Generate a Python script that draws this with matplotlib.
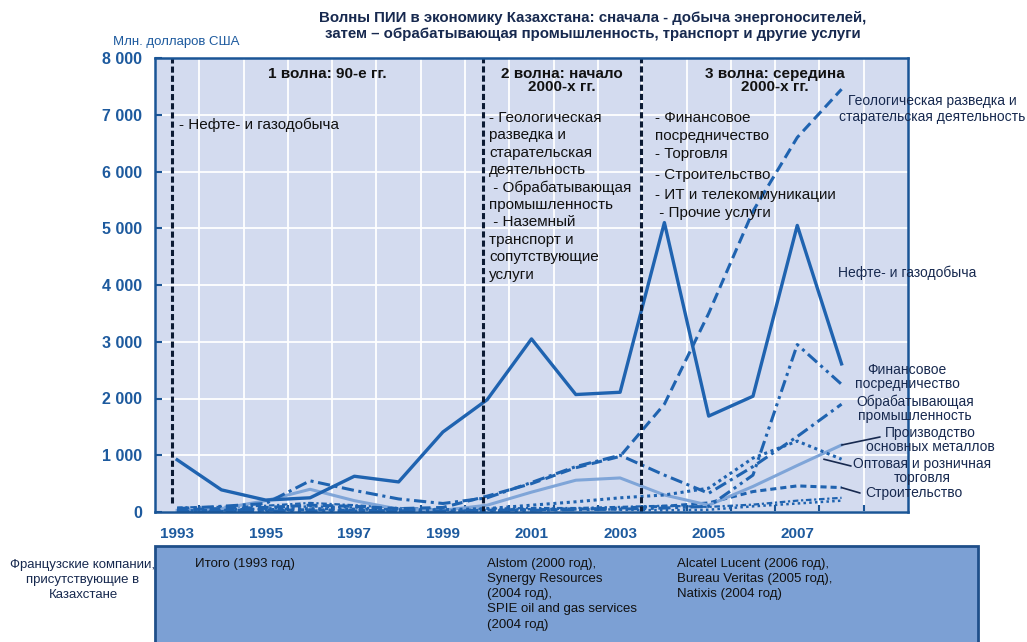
import matplotlib
matplotlib.use("Agg")
import matplotlib.pyplot as plt
from matplotlib.patches import Rectangle

plt.rcParams["font.family"] = ["Liberation Sans", "DejaVu Sans"]

# Data (млн. долларов США)
years = list(range(1993, 2009))
oil_gas = [920, 390, 210, 250, 630, 530, 1410, 1980, 3050, 2070, 2110, 5100, 1690, 2040, 5050, 2610]
geology = [40, 60, 80, 120, 100, 60, 80, 280, 500, 780, 980, 1900, 3500, 5300, 6600, 7450]
finance = [10, 10, 20, 20, 20, 20, 20, 20, 30, 40, 50, 70, 100, 650, 2950, 2250]
manufacturing = [60, 100, 150, 550, 380, 230, 150, 250, 520, 800, 1000, 650, 330, 800, 1330, 1900]
metals = [30, 60, 200, 400, 200, 50, 30, 120, 350, 560, 600, 300, 120, 450, 820, 1180]
trade = [20, 30, 40, 60, 50, 40, 40, 60, 120, 180, 250, 300, 420, 950, 1250, 930]
construction = [10, 20, 30, 40, 30, 20, 20, 30, 40, 50, 70, 100, 160, 360, 460, 430]
transport = [80, 90, 110, 160, 120, 70, 50, 60, 70, 70, 90, 110, 90, 130, 200, 250]
telecom = [20, 40, 60, 100, 80, 40, 30, 40, 50, 60, 40, 30, 40, 100, 150, 200]

year_ticks = [1993, 1995, 1997, 1999, 2001, 2003, 2005, 2007]
y_ticks = [0, 1000, 2000, 3000, 4000, 5000, 6000, 7000, 8000]
wave_bounds = [1992.88, 1999.9, 2003.47]

title = ("Волны ПИИ в экономику Казахстана: сначала - добыча энергоносителей,\n"
         "затем – обрабатывающая промышленность, транспорт и другие услуги")
wave_titles = ["1 волна: 90-е гг.", "2 волна: начало\n2000-х гг.", "3 волна: середина\n2000-х гг."]
wave1_list = ["- Нефте- и газодобыча"]
wave2_list = ["- Геологическая", "разведка и", "старательская", "деятельность",
              " - Обрабатывающая", "промышленность", " - Наземный", "транспорт и",
              "сопутствующие", "услуги"]
wave3_list = ["- Финансовое", "посредничество", "- Торговля", "- Строительство",
              "- ИТ и телекоммуникации", " - Прочие услуги"]
companies = ["Итого (1993 год)",
             "Alstom (2000 год),\nSynergy Resources\n(2004 год),\nSPIE oil and gas services\n(2004 год)",
             "Alcatel Lucent (2006 год),\nBureau Veritas (2005 год),\nNatixis (2004 год)"]

LINE = "#1f63b0"
LIGHT = "#7fa5d8"
SPINE = "#1a5596"
NAVY = "#17294f"
BG = "#d3dbef"

W, H = 1027, 642
fig = plt.figure(figsize=(W / 100, H / 100), dpi=100, facecolor="white")


def px(x, y):
    return x / W, 1 - y / H


ax = fig.add_axes([155 / W, 1 - 512 / H, 753 / W, 454 / H])
ax.set_facecolor(BG)
ax.set_xlim(1992.5, 2009.5)
ax.set_ylim(0, 8000)

# grid
ax.set_yticks(y_ticks)
ax.set_yticklabels(["{:,}".format(v).replace(",", " ") for v in y_ticks])
ax.set_xticks(year_ticks)
ax.set_xticks([1992.5 + k for k in range(1, 17)], minor=True)
ax.grid(True, which="major", axis="y", color="white", lw=1.3)
ax.grid(True, which="minor", axis="x", color="white", lw=1.3)
ax.set_axisbelow(True)
for s in ax.spines.values():
    s.set_color(SPINE)
    s.set_linewidth(1.8)
ax.tick_params(axis="y", direction="in", length=5, width=1.5, color=SPINE, pad=9,
               labelsize=11.5, labelcolor="#1d5a9e")
ax.tick_params(axis="x", which="major", length=0, pad=11, labelsize=11, labelcolor="#1d5a9e")
ax.tick_params(axis="x", which="minor", direction="in", length=5, width=1.5, color=SPINE)
for lab in ax.get_xticklabels() + ax.get_yticklabels():
    lab.set_fontweight("bold")

# series
kw = dict(color=LINE, lw=2.2, solid_capstyle="butt", dash_capstyle="butt")
ax.plot(years, telecom, dashes=(1, 1.3), lw=1.8, color=LINE)
ax.plot(years, transport, dashes=(2.5, 1.2, 1, 1.2), lw=1.6, color=LINE)
ax.plot(years, construction, dashes=(2, 1.3), **kw)
ax.plot(years, metals, color=LIGHT, lw=2.2)
ax.plot(years, trade, dashes=(1, 1.2), **kw)
ax.plot(years, manufacturing, dashes=(4, 1.5, 1, 1.5), **kw)
ax.plot(years, finance, dashes=(4, 1.5, 1, 1.5, 1, 1.5), **kw)
ax.plot(years, geology, dashes=(3.5, 1.8), **kw)
ax.plot(years, oil_gas, lw=2.4, color=LINE)

# wave separators
sep_kw = dict(color="#0b1a33", lw=2.2, dashes=(2.0, 1.0))
ax.plot([wave_bounds[0]] * 2, [150, 8000], **sep_kw)
ax.plot([wave_bounds[1]] * 2, [0, 8000], **sep_kw)
ax.plot([wave_bounds[2]] * 2, [0, 8000], **sep_kw)

# wave headers
centers = [(wave_bounds[0] + wave_bounds[1]) / 2, (wave_bounds[1] + wave_bounds[2]) / 2,
           (wave_bounds[2] + 2009.5) / 2]
for c, t in zip(centers, wave_titles):
    ax.text(c, 7850, t, ha="center", va="top", fontsize=11, fontweight="bold",
            color="#111", linespacing=0.95)

for i, t in enumerate(wave1_list):
    fig.text(*px(179, 125), t, fontsize=11, va="center", color="#111")
for i, t in enumerate(wave2_list):
    fig.text(*px(489, 118 + i * 17.4), t, fontsize=11, va="center", color="#111")
w3_y = [118, 136, 154, 175, 195, 213]
for t, y in zip(wave3_list, w3_y):
    fig.text(*px(655, y), t, fontsize=11, va="center", color="#111")

# series labels on the right
lab_kw = dict(fontsize=10, ha="center", va="center", color=NAVY, linespacing=1.0)
fig.text(*px(932, 109), "Геологическая разведка и\nстарательская деятельность",
         fontsize=10, ha="center", va="center", color=NAVY, linespacing=1.15)
fig.text(*px(907, 273), "Нефте- и газодобыча", **lab_kw)
fig.text(*px(907, 377), "Финансовое\nпосредничество", **lab_kw)
fig.text(*px(915, 409), "Обрабатывающая\nпромышленность", **lab_kw)
fig.text(*px(930, 440), "Производство\nосновных металлов", **lab_kw)
fig.text(*px(922, 471), "Оптовая и розничная\nторговля", **lab_kw)
fig.text(*px(914, 493), "Строительство", **lab_kw)

lead = dict(arrowstyle="-", color=NAVY, lw=1.2, shrinkA=0, shrinkB=0)
ax.annotate("", xy=(years[-1], metals[-1]), xytext=px(880, 437),
            textcoords="figure fraction", arrowprops=lead)
ax.annotate("", xy=(years[-1] - 0.4, trade[-1]), xytext=px(851, 466),
            textcoords="figure fraction", arrowprops=lead)
ax.annotate("", xy=(years[-1], construction[-1]), xytext=px(860, 493),
            textcoords="figure fraction", arrowprops=lead)

# title and unit
fig.text(*px(593, 26), title, ha="center", va="center", fontsize=10.8,
         fontweight="bold", color=NAVY, linespacing=1.15)
fig.text(*px(176, 42), "Млн. долларов США", ha="center", va="center",
         fontsize=9.5, color="#1d5a9e")

# French companies panel
fig.patches.append(Rectangle(px(155, 660), (978 - 155) / W, (660 - 546) / H,
                             transform=fig.transFigure, facecolor="#7ca0d4",
                             edgecolor="#1f4f8a", lw=2))
fig.text(*px(83, 580), "Французские компании,\nприсутствующие в\nКазахстане",
         ha="center", va="center", fontsize=9.5, color=NAVY, linespacing=1.3)
for x, t in zip([195, 487, 677], companies):
    fig.text(*px(x, 558), t, ha="left", va="top", fontsize=9.5, color="#111",
             linespacing=1.35)

fig.savefig("out.png", dpi=100, facecolor="white")
